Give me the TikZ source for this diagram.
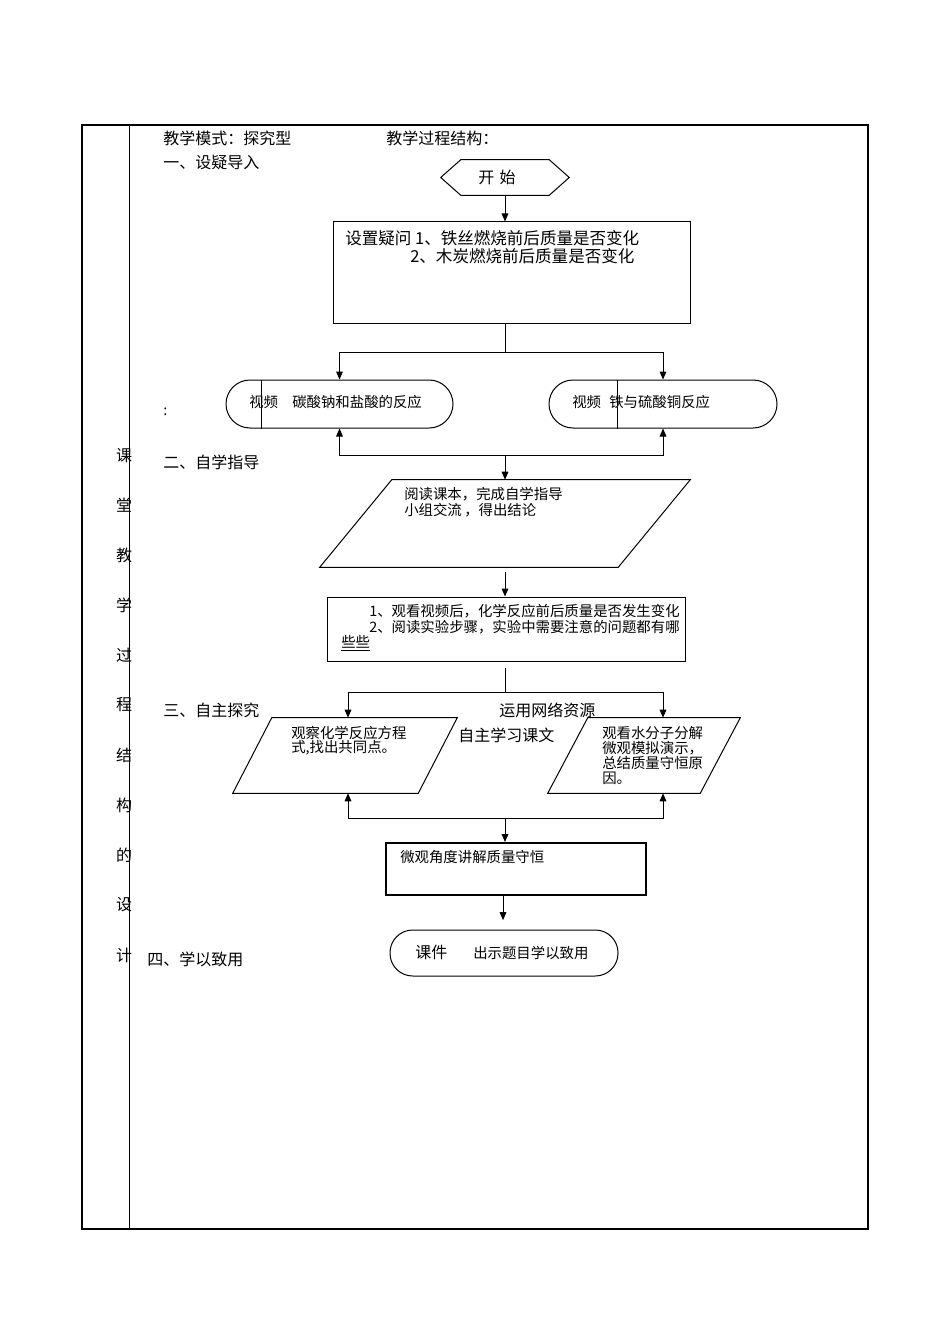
\documentclass[tikz,border=0pt]{standalone}
\usepackage{fontspec}
\setmainfont{Noto Sans CJK SC}
\usetikzlibrary{arrows.meta,fit}
\begin{document}
\begin{tikzpicture}[x=0.75pt,y=-0.75pt,
  box/.style={draw,line width=0.75pt,inner sep=0pt},
  ghost/.style={inner sep=0pt},
  arr/.style={line width=0.75pt,-{Triangle[length=6pt,width=5pt]}},
  ln/.style={line width=0.75pt},
  big/.style={anchor=west,inner sep=0pt,font=\fontsize{12pt}{14pt}\selectfont},
  mid/.style={anchor=west,inner sep=0pt,font=\fontsize{12.4pt}{14pt}\selectfont},
  sm/.style={anchor=west,inner sep=0pt,font=\fontsize{10.8pt}{12pt}\selectfont},
  side/.style={inner sep=0pt,font=\fontsize{12pt}{14pt}\selectfont}]
\useasboundingbox (0,0) rectangle (950,1344);
\fill[white] (0,0) rectangle (950,1344);
% frame
\draw[line width=1pt] (82,125) rectangle (868,1229);
\draw[line width=1.5pt] (82,125) -- (868,125);
\draw[line width=0.6pt] (129,125) -- (129,1229);
% side column
\foreach \c/\yy in {课/456,堂/505,教/555,学/605,过/655,程/705,结/755,构/805,的/855,设/905,计/955}
  \node[side] at (124,\yy) {\c};
% headings
\node[big] (h0) at (163,138) {教学模式：探究型};
\node[big] (h0b) at (386,138) {教学过程结构：};
\node[big] (h1) at (163,162) {一、设疑导入};
\node[big] (h2) at (163,462) {二、自学指导};
\node[big] (h3) at (163,710) {三、自主探究};
\node[big] (h4) at (147,959) {四、学以致用};
\node[sm] (colon) at (163,412) {:};
% start hexagon
\node[ghost,fit={(441,160)(569,195)}] (start) {};
\draw[ln] (start.west) -- ([xshift=15pt]start.north west) -- ([xshift=-15pt]start.north east)
  -- (start.east) -- ([xshift=-15pt]start.south east) -- ([xshift=15pt]start.south west) -- cycle;
\node[inner sep=0pt,font=\fontsize{12pt}{14pt}\selectfont] (starttxt) at (497,177) {开\,\,始};
% question box
\node[box,fit={(333,222)(690,323)}] (q1) {};
\node[mid] (q1a) at (345,238) {设置疑问 1、铁丝燃烧前后质量是否变化};
\node[mid] (q1b) at (410,256) {2、木炭燃烧前后质量是否变化};
% video stadiums
\node[box,rounded corners=18pt,fit={(226,380)(453,428)}] (v1) {};
\draw[ln] ([xshift=27pt]v1.north west) -- ([xshift=27pt]v1.south west);
\node[sm] (v1a) at (249,402) {视频};
\node[sm] (v1b) at (292,402) {碳酸钠和盐酸的反应};
\node[box,rounded corners=18pt,fit={(549,380)(777,428)}] (v2) {};
\draw[ln] ([xshift=51.5pt]v2.north west) -- ([xshift=51.5pt]v2.south west);
\node[sm] (v2a) at (572,402) {视频};
\node[sm] (v2b) at (609,402) {铁与硫酸铜反应};
% connectors round videos
\coordinate (j1) at (505,352);
\draw[ln] (j1 |- q1.south) -- (j1);
\draw[arr] (j1) -| (v1.north);
\draw[arr] (j1) -| (v2.north);
\coordinate (j2) at (505,455);
\draw[arr] (j2) -| (v1.south);
\draw[arr] (j2) -| (v2.south);
\draw[arr] (start.south) -- (start.south |- q1.north);
% parallelogram 1
\node[ghost,fit={(320,480)(690,567)}] (p1) {};
\draw[ln] ([xshift=54pt]p1.north west) -- (p1.north east) -- ([xshift=-54pt]p1.south east) -- (p1.south west) -- cycle;
\node[sm] (p1a) at (404,494) {阅读课本，完成自学指导};
\node[sm] (p1b) at (404,510) {小组交流\,，得出结论};
\draw[arr] (j2) -- (j2 |- p1.north);
% box 2
\node[box,fit={(327,597)(685,661)}] (q2) {};
\node[sm] (q2a) at (369,611) {1、观看视频后，化学反应前后质量是否发生变化};
\node[sm] (q2b) at (369,627) {2、阅读实验步骤，实验中需要注意的问题都有哪};
\node[sm] (q2c) at (341,643) {\underline{些些}};
\draw[arr,shorten <=3.5pt] (j2 |- p1.south) -- (j2 |- q2.north);
% branch 3
\coordinate (j3) at (505,692);
\coordinate (al) at (348,0);
\coordinate (ar) at (663,0);
\node[ghost,fit={(233,718)(457,793)}] (pl) {};
\draw[ln] ([xshift=29.25pt]pl.north west) -- (pl.north east) -- ([xshift=-29.25pt]pl.south east) -- (pl.south west) -- cycle;
\node[sm] (pla) at (291,733) {观察化学反应方程};
\node[sm] (plb) at (291,748) {式,找出共同点。};
\node[ghost,fit={(548,718)(740,793)}] (pr) {};
\draw[ln] ([xshift=30pt]pr.north west) -- (pr.north east) -- ([xshift=-30pt]pr.south east) -- (pr.south west) -- cycle;
\node[sm] (pra) at (602,733) {观看水分子分解};
\node[sm] (prb) at (602,748) {微观模拟演示，};
\node[sm] (prc) at (602,763) {总结质量守恒原};
\node[sm] (prd) at (602,778) {因。};
\node[big] (net1) at (499,710) {运用网络资源};
\node[big] (net2) at (458,735) {自主学习课文};
\draw[ln,shorten <=5pt] (j3 |- q2.south) -- (j3);
\draw[arr] (j3) -| (al |- pl.north);
\draw[arr] (j3) -| (ar |- pr.north);
\coordinate (j4) at (505,818);
\draw[arr] (j4) -| (al |- pl.south);
\draw[arr] (j4) -| (ar |- pr.south);
% box 3
\node[draw,line width=1.5pt,inner sep=0pt,fit={(386,843)(646,895)}] (q3) {};
\node[sm] (q3a) at (400,857) {微观角度讲解质量守恒};
\draw[arr] (j4) -- (j4 |- q3.north);
% final stadium
\node[box,rounded corners=17pt,fit={(390,930)(618,976)}] (fin) {};
\node[big] (fina) at (415,952) {课件};
\node[sm] (finb) at (473,953) {出示题目学以致用};
\coordinate (j5) at (503,0);
\draw[arr,shorten >=7pt] (j5 |- q3.south) -- (j5 |- fin.north);
\end{tikzpicture}
\end{document}
